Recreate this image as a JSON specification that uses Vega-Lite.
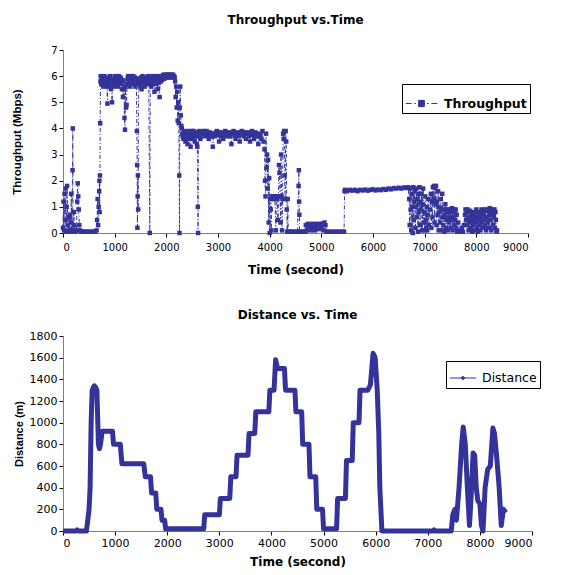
{
  "$schema": "https://vega.github.io/schema/vega-lite/v6.json",
  "background": "white",
  "padding": {"left": 11, "top": 14, "right": 5, "bottom": 5},
  "config": {
    "view": {"stroke": null},
    "font": "DejaVu Sans",
    "axis": {"grid": false, "format": "d", "domainColor": "#808080", "tickColor": "#000000", "tickSize": 4, "labelPadding": 2, "labelColor": "#000000", "labelFont": "DejaVu Sans", "titleColor": "#000000", "titleFont": "DejaVu Sans", "titleFontWeight": "bold", "titleFontSize": 12},
    "axisY": {"titleFont": "Liberation Sans", "titleFontSize": 11},
    "title": {"font": "DejaVu Sans", "fontSize": 12, "fontWeight": "bold", "color": "#000000", "anchor": "middle", "frame": "group"},
    "legend": {"strokeColor": "#000000", "fillColor": "white", "orient": "none", "labelColor": "#000000", "labelFont": "DejaVu Sans"}
  },
  "spacing": 34,
  "resolve": {"scale": {"color": "independent"}, "legend": {"color": "independent"}},
  "vconcat": [
    {
      "title": {"text": "Throughput vs.Time", "offset": 18},
      "width": 465,
      "height": 183,
      "data": {"values": [
        {"t":0,"v":0.2},{"t":10,"v":1.2},{"t":20,"v":0.1},{"t":30,"v":1.5},{"t":40,"v":0.5},{"t":50,"v":1.7},{"t":60,"v":0.05},{"t":70,"v":1.0},{"t":80,"v":1.8},{"t":90,"v":0.3},{"t":100,"v":0.05},{"t":110,"v":0.6},{"t":120,"v":0.05},{"t":130,"v":0.7},{"t":140,"v":0.1},{"t":150,"v":0.4},{"t":160,"v":1.5},{"t":170,"v":0.05},{"t":185,"v":2.4},{"t":190,"v":4.0},{"t":195,"v":0.1},{"t":210,"v":0.8},{"t":220,"v":0.3},{"t":240,"v":0.05},{"t":260,"v":0.1},{"t":275,"v":1.2},{"t":285,"v":1.9},{"t":295,"v":1.4},{"t":305,"v":0.9},{"t":315,"v":0.3},{"t":330,"v":0.1},{"t":350,"v":0.05},
        {"t":380,"v":0.05},{"t":420,"v":0.05},{"t":460,"v":0.05},{"t":500,"v":0.05},{"t":540,"v":0.05},{"t":580,"v":0.05},{"t":620,"v":0.05},{"t":650,"v":0.1},{"t":660,"v":0.5},{"t":670,"v":1.3},{"t":680,"v":0.3},{"t":690,"v":1.0},{"t":700,"v":1.6},{"t":705,"v":2.0},{"t":710,"v":0.8},{"t":715,"v":2.2},{"t":720,"v":4.2},{"t":725,"v":5.8},
        {"t":730,"v":6.0},{"t":740,"v":5.7},{"t":750,"v":5.85},{"t":760,"v":5.9},{"t":770,"v":5.75},{"t":780,"v":5.6},{"t":790,"v":5.9},{"t":800,"v":6.0},{"t":810,"v":5.8},{"t":820,"v":5.7},{"t":830,"v":5.95},{"t":840,"v":5.8},{"t":850,"v":5.6},{"t":860,"v":4.95},{"t":870,"v":5.9},{"t":880,"v":5.75},{"t":890,"v":5.6},{"t":900,"v":5.85},{"t":910,"v":6.0},{"t":920,"v":5.7},{"t":930,"v":5.5},{"t":940,"v":5.8},{"t":950,"v":5.0},{"t":960,"v":5.9},{"t":970,"v":5.7},{"t":980,"v":5.6},{"t":990,"v":5.85},{"t":1000,"v":6.0},{"t":1010,"v":5.8},{"t":1020,"v":5.7},{"t":1030,"v":5.95},{"t":1040,"v":5.9},{"t":1050,"v":5.75},{"t":1060,"v":5.6},{"t":1070,"v":5.85},{"t":1080,"v":6.0},{"t":1090,"v":5.8},{"t":1100,"v":5.7},{"t":1110,"v":5.95},{"t":1120,"v":5.9},{"t":1130,"v":5.7},{"t":1140,"v":5.5},{"t":1150,"v":5.85},{"t":1160,"v":5.2},{"t":1170,"v":5.8},{"t":1180,"v":5.5},{"t":1190,"v":4.4},{"t":1200,"v":3.95},{"t":1210,"v":5.6},{"t":1220,"v":4.8},{"t":1230,"v":4.9},{"t":1240,"v":5.7},{"t":1250,"v":5.9},{"t":1260,"v":6.0},{"t":1270,"v":5.75},{"t":1280,"v":5.8},{"t":1290,"v":5.95},{"t":1300,"v":5.6},{"t":1310,"v":5.85},{"t":1320,"v":5.9},{"t":1330,"v":6.0},{"t":1340,"v":5.7},{"t":1350,"v":5.85},{"t":1360,"v":6.0},{"t":1370,"v":5.7},{"t":1380,"v":5.8},{"t":1390,"v":5.95},{"t":1400,"v":5.6},{"t":1410,"v":5.8},{"t":1420,"v":5.9},{"t":1430,"v":3.9},{"t":1435,"v":2.6},{"t":1440,"v":0.2},{"t":1445,"v":1.4},{"t":1450,"v":2.2},{"t":1455,"v":0.9},{"t":1460,"v":5.7},{"t":1470,"v":5.85},{"t":1480,"v":5.9},{"t":1490,"v":5.7},{"t":1500,"v":5.6},{"t":1510,"v":5.95},{"t":1520,"v":5.5},{"t":1530,"v":5.8},{"t":1540,"v":6.0},{"t":1550,"v":5.75},{"t":1560,"v":5.8},{"t":1570,"v":5.95},{"t":1580,"v":5.6},{"t":1590,"v":5.85},{"t":1600,"v":5.9},{"t":1610,"v":5.7},{"t":1620,"v":5.7},{"t":1630,"v":5.95},{"t":1640,"v":5.8},{"t":1650,"v":6.0},{"t":1660,"v":5.7},{"t":1680,"v":0.0},{"t":1690,"v":5.9},{"t":1700,"v":5.75},{"t":1710,"v":5.6},{"t":1720,"v":5.85},{"t":1730,"v":6.0},{"t":1740,"v":5.7},{"t":1750,"v":5.8},{"t":1760,"v":5.95},{"t":1770,"v":5.4},{"t":1780,"v":5.8},{"t":1790,"v":5.9},{"t":1800,"v":6.0},{"t":1810,"v":5.7},{"t":1820,"v":5.85},{"t":1830,"v":5.5},{"t":1840,"v":5.8},{"t":1850,"v":6.0},{"t":1860,"v":5.75},{"t":1870,"v":5.2},{"t":1880,"v":5.9},{"t":1890,"v":5.8},{"t":1900,"v":5.95},{"t":1910,"v":6.0},{"t":1920,"v":5.85},{"t":1930,"v":5.9},{"t":1940,"v":6.05},{"t":1950,"v":6.0},{"t":1960,"v":5.9},{"t":1970,"v":6.05},{"t":1980,"v":6.0},{"t":1990,"v":5.95},{"t":2000,"v":6.05},{"t":2010,"v":6.05},{"t":2020,"v":5.95},{"t":2030,"v":6.0},{"t":2040,"v":6.05},{"t":2050,"v":6.05},{"t":2060,"v":6.0},{"t":2070,"v":5.95},{"t":2080,"v":6.05},{"t":2090,"v":6.05},{"t":2100,"v":5.95},{"t":2110,"v":6.0},{"t":2120,"v":6.05},{"t":2130,"v":6.05},{"t":2140,"v":5.95},{"t":2150,"v":6.0},{"t":2160,"v":5.95},{"t":2170,"v":5.8},{"t":2180,"v":5.2},{"t":2190,"v":5.6},{"t":2200,"v":4.8},{"t":2210,"v":5.4},{"t":2220,"v":4.3},{"t":2230,"v":5.0},{"t":2240,"v":4.2},{"t":2250,"v":2.2},{"t":2255,"v":0.0},{"t":2260,"v":4.8},{"t":2270,"v":5.6},{"t":2280,"v":4.5},{"t":2290,"v":4.1},{"t":2300,"v":4.0},
        {"t":2310,"v":3.8},{"t":2320,"v":3.7},{"t":2330,"v":3.6},{"t":2340,"v":3.85},{"t":2350,"v":3.9},{"t":2360,"v":3.7},{"t":2370,"v":3.5},{"t":2380,"v":3.75},{"t":2390,"v":3.8},{"t":2400,"v":3.6},{"t":2410,"v":3.4},{"t":2420,"v":3.8},{"t":2430,"v":3.9},{"t":2440,"v":3.7},{"t":2450,"v":3.6},{"t":2460,"v":3.85},{"t":2470,"v":3.3},{"t":2480,"v":3.7},{"t":2490,"v":3.8},{"t":2500,"v":3.9},{"t":2510,"v":3.7},{"t":2520,"v":3.6},{"t":2530,"v":3.9},{"t":2540,"v":3.75},{"t":2550,"v":3.5},{"t":2560,"v":3.85},{"t":2570,"v":3.8},{"t":2580,"v":3.7},{"t":2590,"v":3.4},{"t":2600,"v":3.3},{"t":2610,"v":1.0},{"t":2615,"v":0.0},{"t":2620,"v":3.7},{"t":2630,"v":3.85},{"t":2640,"v":3.9},{"t":2650,"v":3.75},{"t":2660,"v":3.6},{"t":2680,"v":3.85},{"t":2700,"v":3.8},{"t":2720,"v":3.9},{"t":2740,"v":3.7},{"t":2760,"v":3.85},{"t":2780,"v":3.9},{"t":2800,"v":3.75},{"t":2820,"v":3.6},{"t":2840,"v":3.85},{"t":2860,"v":3.8},{"t":2880,"v":3.7},{"t":2900,"v":3.3},{"t":2920,"v":3.8},{"t":2940,"v":3.7},{"t":2960,"v":3.85},{"t":2980,"v":3.9},{"t":3000,"v":3.75},{"t":3020,"v":3.5},{"t":3040,"v":3.85},{"t":3060,"v":3.8},{"t":3080,"v":3.7},{"t":3100,"v":3.6},{"t":3120,"v":3.85},{"t":3140,"v":3.9},{"t":3160,"v":3.75},{"t":3180,"v":3.7},{"t":3200,"v":3.85},{"t":3220,"v":3.8},{"t":3240,"v":3.7},{"t":3260,"v":3.4},{"t":3280,"v":3.85},{"t":3300,"v":3.9},{"t":3320,"v":3.75},{"t":3340,"v":3.6},{"t":3360,"v":3.85},{"t":3380,"v":3.8},{"t":3400,"v":3.7},{"t":3420,"v":3.5},{"t":3440,"v":3.85},{"t":3460,"v":3.9},{"t":3480,"v":3.75},{"t":3500,"v":3.7},{"t":3520,"v":3.85},{"t":3540,"v":3.6},{"t":3560,"v":3.85},{"t":3580,"v":3.8},{"t":3600,"v":3.7},{"t":3620,"v":3.5},{"t":3640,"v":3.85},{"t":3660,"v":3.9},{"t":3680,"v":3.75},{"t":3700,"v":3.6},{"t":3720,"v":3.85},{"t":3740,"v":3.8},{"t":3760,"v":3.7},{"t":3780,"v":3.4},{"t":3800,"v":3.8},{"t":3820,"v":3.7},{"t":3840,"v":3.6},{"t":3860,"v":3.9},{"t":3880,"v":3.5},{"t":3900,"v":3.2},{"t":3910,"v":2.0},{"t":3920,"v":1.4},{"t":3930,"v":3.8},{"t":3940,"v":2.5},{"t":3950,"v":3.0},{"t":3960,"v":1.7},{"t":3970,"v":2.8},{"t":3980,"v":0.4},{"t":3990,"v":2.1},{"t":4000,"v":0.0},{"t":4010,"v":1.3},{"t":4020,"v":0.9},{"t":4030,"v":0.1},{"t":4040,"v":1.4},{"t":4050,"v":1.35},{"t":4060,"v":1.3},{"t":4070,"v":1.4},{"t":4080,"v":1.4},{"t":4090,"v":1.3},{"t":4100,"v":1.35},{"t":4120,"v":0.1},{"t":4130,"v":1.4},{"t":4150,"v":1.3},{"t":4160,"v":0.5},{"t":4170,"v":1.4},{"t":4180,"v":2.6},{"t":4190,"v":2.3},{"t":4200,"v":1.4},{"t":4210,"v":0.4},{"t":4220,"v":3.0},{"t":4230,"v":1.4},{"t":4240,"v":0.1},{"t":4250,"v":1.3},{"t":4260,"v":3.8},{"t":4270,"v":3.6},{"t":4280,"v":3.9},{"t":4290,"v":2.2},{"t":4300,"v":1.3},{"t":4310,"v":3.9},{"t":4320,"v":3.5},{"t":4330,"v":0.9},{"t":4340,"v":0.05},{"t":4350,"v":1.3},{"t":4360,"v":0.05},
        {"t":4380,"v":0.05},{"t":4420,"v":0.05},{"t":4460,"v":0.05},{"t":4500,"v":0.05},{"t":4540,"v":0.05},{"t":4560,"v":1.8},{"t":4565,"v":2.4},{"t":4570,"v":1.2},{"t":4575,"v":0.7},{"t":4580,"v":0.05},{"t":4620,"v":0.05},{"t":4660,"v":0.05},{"t":4690,"v":0.05},{"t":4700,"v":0.3},{"t":4720,"v":0.1},{"t":4740,"v":0.35},{"t":4760,"v":0.2},{"t":4780,"v":0.3},{"t":4800,"v":0.1},{"t":4820,"v":0.35},{"t":4840,"v":0.2},{"t":4860,"v":0.3},{"t":4880,"v":0.1},{"t":4900,"v":0.35},{"t":4920,"v":0.2},{"t":4940,"v":0.3},{"t":4960,"v":0.15},{"t":4980,"v":0.35},{"t":5000,"v":0.25},{"t":5020,"v":0.35},{"t":5040,"v":0.1},{"t":5060,"v":0.4},{"t":5080,"v":0.3},{"t":5100,"v":0.05},{"t":5150,"v":0.05},{"t":5200,"v":0.05},{"t":5250,"v":0.05},{"t":5300,"v":0.05},{"t":5350,"v":0.05},{"t":5400,"v":0.05},{"t":5440,"v":0.05},{"t":5450,"v":1.6},
        {"t":5460,"v":1.65},{"t":5500,"v":1.6},{"t":5550,"v":1.65},{"t":5600,"v":1.62},{"t":5650,"v":1.65},{"t":5700,"v":1.6},{"t":5750,"v":1.65},{"t":5800,"v":1.63},{"t":5850,"v":1.66},{"t":5900,"v":1.62},{"t":5950,"v":1.65},{"t":6000,"v":1.67},{"t":6050,"v":1.63},{"t":6100,"v":1.66},{"t":6150,"v":1.64},{"t":6200,"v":1.68},{"t":6250,"v":1.65},{"t":6300,"v":1.7},{"t":6350,"v":1.67},{"t":6400,"v":1.72},{"t":6450,"v":1.7},{"t":6500,"v":1.73},{"t":6550,"v":1.7},{"t":6600,"v":1.74},{"t":6650,"v":1.72},{"t":6680,"v":1.75},{"t":6700,"v":1.3},
        {"t":6710,"v":0.3},{"t":6720,"v":1.7},{"t":6730,"v":0.9},{"t":6740,"v":0.1},{"t":6750,"v":1.5},{"t":6760,"v":1.0},{"t":6770,"v":0.0},{"t":6780,"v":1.75},{"t":6790,"v":0.5},{"t":6800,"v":1.2},{"t":6810,"v":1.6},{"t":6820,"v":0.2},{"t":6830,"v":1.0},{"t":6840,"v":1.7},{"t":6850,"v":0.6},{"t":6860,"v":1.3},{"t":6870,"v":0.05},{"t":6880,"v":1.5},{"t":6890,"v":0.8},{"t":6900,"v":1.75},{"t":6910,"v":0.3},{"t":6920,"v":1.2},{"t":6930,"v":0.9},{"t":6940,"v":1.5},{"t":6950,"v":0.1},{"t":6960,"v":1.1},{"t":6970,"v":1.7},{"t":6980,"v":0.4},{"t":6990,"v":0.8},{"t":7000,"v":0.1},{"t":7010,"v":1.4},{"t":7020,"v":0.5},{"t":7030,"v":0.2},{"t":7040,"v":1.0},{"t":7050,"v":0.1},{"t":7060,"v":0.7},{"t":7070,"v":1.3},{"t":7080,"v":0.3},{"t":7100,"v":0.9},{"t":7120,"v":1.5},{"t":7130,"v":0.2},{"t":7140,"v":1.2},{"t":7150,"v":0.6},{"t":7160,"v":1.75},{"t":7170,"v":1.3},{"t":7180,"v":1.8},{"t":7190,"v":0.4},{"t":7200,"v":1.75},{"t":7210,"v":1.1},{"t":7220,"v":1.8},{"t":7230,"v":0.3},{"t":7240,"v":1.2},{"t":7250,"v":0.7},{"t":7260,"v":1.6},{"t":7270,"v":0.1},{"t":7280,"v":1.0},{"t":7290,"v":0.8},{"t":7300,"v":0.4},{"t":7310,"v":1.3},{"t":7320,"v":0.9},{"t":7330,"v":0.1},{"t":7340,"v":1.5},{"t":7350,"v":0.6},{"t":7360,"v":0.3},{"t":7370,"v":0.9},{"t":7380,"v":0.05},{"t":7390,"v":0.7},{"t":7400,"v":1.1},{"t":7410,"v":0.2},{"t":7420,"v":0.9},{"t":7430,"v":0.5},{"t":7440,"v":0.8},{"t":7450,"v":0.1},{"t":7460,"v":0.9},{"t":7470,"v":0.4},{"t":7480,"v":0.6},{"t":7490,"v":0.9},{"t":7500,"v":0.2},{"t":7510,"v":0.8},{"t":7520,"v":0.5},{"t":7530,"v":0.95},{"t":7540,"v":0.1},{"t":7550,"v":0.6},{"t":7560,"v":0.9},{"t":7570,"v":0.3},{"t":7580,"v":0.85},{"t":7590,"v":0.5},{"t":7600,"v":0.9},{"t":7610,"v":0.2},{"t":7620,"v":0.7},{"t":7630,"v":0.05},{"t":7650,"v":0.4},{"t":7680,"v":0.1},{"t":7700,"v":0.05},{"t":7720,"v":0.2},{"t":7740,"v":0.05},{"t":7760,"v":0.3},{"t":7780,"v":0.7},{"t":7790,"v":0.9},{"t":7800,"v":0.5},{"t":7810,"v":0.85},{"t":7820,"v":0.3},{"t":7830,"v":0.9},{"t":7840,"v":0.6},{"t":7850,"v":0.1},{"t":7860,"v":0.8},{"t":7870,"v":0.4},{"t":7880,"v":0.85},{"t":7890,"v":0.5},{"t":7900,"v":0.2},{"t":7910,"v":0.7},{"t":7920,"v":0.05},{"t":7930,"v":0.6},{"t":7940,"v":0.3},{"t":7950,"v":0.8},{"t":7960,"v":0.5},{"t":7970,"v":0.1},{"t":7980,"v":0.7},{"t":7990,"v":0.4},{"t":8000,"v":0.9},{"t":8010,"v":0.2},{"t":8020,"v":0.6},{"t":8030,"v":0.05},{"t":8040,"v":0.8},{"t":8050,"v":0.5},{"t":8060,"v":0.3},{"t":8070,"v":0.7},{"t":8080,"v":0.1},{"t":8090,"v":0.6},{"t":8100,"v":0.9},{"t":8110,"v":0.4},{"t":8120,"v":0.8},{"t":8130,"v":0.2},{"t":8140,"v":0.7},{"t":8150,"v":0.5},{"t":8160,"v":0.9},{"t":8170,"v":0.3},{"t":8180,"v":0.85},{"t":8190,"v":0.1},{"t":8200,"v":0.6},{"t":8210,"v":0.9},{"t":8220,"v":0.4},{"t":8230,"v":0.85},{"t":8240,"v":0.2},{"t":8250,"v":0.7},{"t":8260,"v":0.95},{"t":8270,"v":0.5},{"t":8280,"v":0.8},{"t":8290,"v":0.1},{"t":8300,"v":0.7},{"t":8310,"v":0.9},{"t":8320,"v":0.3},{"t":8330,"v":0.85},{"t":8340,"v":0.6},{"t":8350,"v":0.9},{"t":8360,"v":0.2},{"t":8370,"v":0.8},{"t":8380,"v":0.5},{"t":8390,"v":0.05},{"t":8400,"v":0.1}
      ]},
      "encoding": {
        "x": {"field": "t", "type": "quantitative", "scale": {"domain": [0, 9000], "nice": false}, "axis": {"values": [0,1000,2000,3000,4000,5000,6000,7000,8000,9000], "title": "Time (second)", "labelFontSize": 10, "labelPadding": 5, "titlePadding": 12}},
        "y": {"field": "v", "type": "quantitative", "scale": {"domain": [0, 7], "nice": false}, "axis": {"values": [0,1,2,3,4,5,6,7], "title": "Throughput (Mbps)", "labelFontSize": 10, "titlePadding": 28, "titleFontSize": 11.5}},
        "color": {"datum": "Throughput", "type": "nominal", "scale": {"range": ["#333399"]}, "legend": {"title": null, "legendX": 339, "legendY": 34, "padding": 3, "labelFontSize": 12.5, "labelFontWeight": "bold", "labelOffset": 6, "symbolType": "M-1,0H-0.62M-0.46,0H-0.36M-0.18,-0.2H0.18V0.2H-0.18ZM0.36,0H0.46M0.62,0H1", "symbolSize": 1000, "symbolStrokeWidth": 1, "symbolDash": [], "symbolFillColor": "#333399", "symbolStrokeColor": "#333399", "symbolOpacity": 1}}
      },
      "layer": [
        {"mark": {"type": "line", "strokeWidth": 1, "strokeDash": [4, 2, 1, 2]}},
        {"mark": {"type": "point", "shape": "square", "filled": true, "size": 20, "opacity": 1}}
      ]
    },
    {
      "title": {"text": "Distance vs. Time", "offset": 8},
      "width": 469,
      "height": 195,
      "data": {"values": [
        {"t":0,"d":0},{"t":250,"d":0},{"t":270,"d":10},{"t":300,"d":0},{"t":450,"d":0},{"t":500,"d":200},{"t":520,"d":400},{"t":540,"d":1000},{"t":560,"d":1300},{"t":600,"d":1340},{"t":620,"d":1330},{"t":650,"d":1300},{"t":680,"d":800},{"t":700,"d":760},{"t":720,"d":800},{"t":750,"d":920},{"t":950,"d":920},{"t":970,"d":800},{"t":1100,"d":800},{"t":1130,"d":620},{"t":1550,"d":620},{"t":1580,"d":500},{"t":1680,"d":500},{"t":1700,"d":350},{"t":1780,"d":350},{"t":1800,"d":200},{"t":1880,"d":200},{"t":1900,"d":100},{"t":1950,"d":100},{"t":1970,"d":20},{"t":2700,"d":20},{"t":2720,"d":150},{"t":3000,"d":150},{"t":3020,"d":300},{"t":3200,"d":300},{"t":3220,"d":500},{"t":3320,"d":500},{"t":3340,"d":700},{"t":3550,"d":700},{"t":3570,"d":900},{"t":3680,"d":900},{"t":3700,"d":1100},{"t":3950,"d":1100},{"t":3970,"d":1300},{"t":4050,"d":1300},{"t":4080,"d":1580},{"t":4120,"d":1500},{"t":4250,"d":1500},{"t":4270,"d":1300},{"t":4450,"d":1300},{"t":4470,"d":1100},{"t":4580,"d":1100},{"t":4600,"d":800},{"t":4720,"d":800},{"t":4740,"d":500},{"t":4850,"d":500},{"t":4870,"d":200},{"t":4980,"d":200},{"t":5000,"d":20},{"t":5250,"d":20},{"t":5270,"d":300},{"t":5420,"d":300},{"t":5440,"d":650},{"t":5550,"d":650},{"t":5570,"d":1000},{"t":5680,"d":1000},{"t":5700,"d":1300},{"t":5850,"d":1300},{"t":5900,"d":1350},{"t":5950,"d":1640},{"t":5990,"d":1600},{"t":6030,"d":1300},{"t":6060,"d":900},{"t":6080,"d":400},{"t":6100,"d":200},{"t":6120,"d":0},{"t":7100,"d":0},{"t":7120,"d":10},{"t":7140,"d":0},{"t":7450,"d":0},{"t":7480,"d":150},{"t":7520,"d":200},{"t":7550,"d":100},{"t":7600,"d":400},{"t":7650,"d":800},{"t":7680,"d":960},{"t":7720,"d":800},{"t":7760,"d":400},{"t":7800,"d":50},{"t":7830,"d":300},{"t":7870,"d":720},{"t":7900,"d":700},{"t":7930,"d":400},{"t":7960,"d":280},{"t":8000,"d":250},{"t":8030,"d":50},{"t":8060,"d":0},{"t":8100,"d":400},{"t":8150,"d":570},{"t":8200,"d":600},{"t":8250,"d":950},{"t":8280,"d":900},{"t":8320,"d":700},{"t":8370,"d":400},{"t":8410,"d":50},{"t":8450,"d":200},{"t":8500,"d":170}
      ]},
      "mark": {"type": "line", "strokeWidth": 5, "strokeJoin": "round"},
      "encoding": {
        "x": {"field": "t", "type": "quantitative", "scale": {"domain": [0, 9000], "nice": false}, "axis": {"values": [0,1000,2000,3000,4000,5000,6000,7000,8000,9000], "title": "Time (second)", "labelFontSize": 11, "titlePadding": 8}},
        "y": {"field": "d", "type": "quantitative", "scale": {"domain": [0, 1800], "nice": false}, "axis": {"values": [0,200,400,600,800,1000,1200,1400,1600,1800], "title": "Distance (m)", "labelFontSize": 11, "titlePadding": 5}},
        "color": {"datum": "Distance", "type": "nominal", "scale": {"range": ["#333399"]}, "legend": {"title": null, "legendX": 383, "legendY": 25, "padding": 3, "labelFontSize": 12.5, "labelOffset": 5, "symbolType": "M-1,0H1M-0.14,0L0,-0.14L0.14,0L0,0.14Z", "symbolSize": 700, "symbolStrokeWidth": 1, "symbolDash": [], "symbolFillColor": "#333399", "symbolStrokeColor": "#333399", "symbolOpacity": 1}}
      }
    }
  ]
}
